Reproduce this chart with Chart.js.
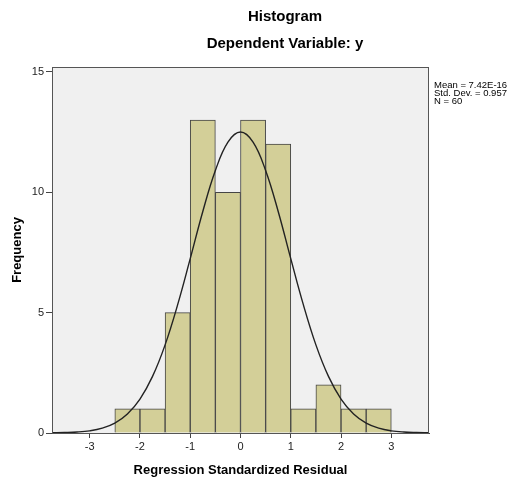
<!DOCTYPE html>
<html>
<head>
<meta charset="utf-8">
<script src="https://cdn.jsdelivr.net/npm/chart.js@4"></script>
<style>
  html, body { margin: 0; padding: 0; background: #ffffff; }
  #wrap { width: 512px; height: 486px; position: relative; }
</style>
</head>
<body>
<div id="wrap"><canvas id="histChart" width="512" height="486"></canvas></div>
<script>
// ===== DATA =====
const binEdges = [-2.5, -2, -1.5, -1, -0.5, 0, 0.5, 1, 1.5, 2, 2.5, 3];
const binCounts = [1, 1, 5, 13, 10, 13, 12, 1, 2, 1, 1];

// normal curve, values
const curveX = [-3.75, -3.5, -3.25, -3, -2.75, -2.5, -2.25, -2, -1.75, -1.5, -1.25, -1, -0.75, -0.5, -0.25,
                0, 0.25, 0.5, 0.75, 1, 1.25, 1.5, 1.75, 2, 2.25, 2.5, 2.75, 3, 3.25, 3.5, 3.75];
const curveY = [0.01, 0.02, 0.04, 0.09, 0.2, 0.41, 0.79, 1.41, 2.35, 3.66, 5.33, 7.24, 9.2, 10.9, 12.08,
                12.5, 12.08, 10.9, 9.2, 7.24, 5.33, 3.66, 2.35, 1.41, 0.79, 0.41, 0.2, 0.09, 0.04, 0.02, 0.01];

const xTicks = [-3, -2, -1, 0, 1, 2, 3];
const yTicks = [0, 5, 10, 15];

const titleLines = ["Histogram", "Dependent Variable: y"];
const statLines = ["Mean = 7.42E-16", "Std. Dev. = 0.957", "N = 60"];

const FONT = "'Liberation Sans', Arial, sans-serif";

// ===== BUILD DATASETS =====
const barPoints = binCounts.map((c, i) => ({ x: (binEdges[i] + binEdges[i + 1]) / 2, y: c }));
const curvePoints = curveX.map((x, i) => ({ x: x, y: curveY[i] }));

// ===== PLUGINS =====
const plotBackground = {
    id: "plotBackground",
    beforeDraw(chart) {
        const { ctx, chartArea: a } = chart;
        ctx.save();
        ctx.fillStyle = "#f0f0f0";
        ctx.fillRect(a.left, a.top, a.right - a.left, a.bottom - a.top);
        ctx.restore();
    },
    afterDraw(chart) {
        const { ctx, chartArea: a } = chart;
        ctx.save();
        ctx.strokeStyle = "#555555";
        ctx.lineWidth = 1;
        ctx.strokeRect(Math.round(a.left) + 0.5, Math.round(a.top) + 0.5,
            Math.round(a.right - a.left) - 1, Math.round(a.bottom - a.top));

        // titles
        ctx.fillStyle = "#000000";
        ctx.textAlign = "center";
        ctx.textBaseline = "middle";
        ctx.font = "bold 15px " + FONT;
        ctx.fillText(titleLines[0], 285, 17);
        ctx.fillText(titleLines[1], 285, 44);

        // stats box
        ctx.font = "9.5px " + FONT;
        ctx.textAlign = "left";
        statLines.forEach((t, i) => ctx.fillText(t, 434, 85 + i * 8));
        ctx.restore();
    }
};

// ===== CHART =====
new Chart(document.getElementById("histChart"), {
    type: "bar",
    data: {
        datasets: [
            {
                type: "line",
                data: curvePoints,
                borderColor: "#222222",
                borderWidth: 1.4,
                pointRadius: 0,
                tension: 0.4,
                fill: false,
                order: 0
            },
            {
                type: "bar",
                data: barPoints,
                backgroundColor: "#d3cf98",
                borderColor: "#454545",
                borderWidth: 1,
                barPercentage: 1,
                categoryPercentage: 1,
                order: 1
            }
        ]
    },
    options: {
        responsive: false,
        animation: false,
        layout: { padding: { top: 67, right: 83, left: 0, bottom: 0 } },
        plugins: {
            legend: { display: false },
            tooltip: { enabled: false }
        },
        scales: {
            x: {
                type: "linear",
                min: -3.75,
                max: 3.75,
                offset: false,
                afterBuildTicks: s => { s.ticks = xTicks.map(v => ({ value: v })); },
                afterFit: s => { s.height = 53; },
                grid: { drawOnChartArea: false, offset: false, tickLength: 5, color: "#444444" },
                border: { color: "#444444" },
                ticks: {
                    font: { family: FONT, size: 11 },
                    color: "#222222",
                    padding: 2,
                    maxRotation: 0
                },
                title: {
                    display: true,
                    text: "Regression Standardized Residual",
                    font: { family: FONT, size: 13, weight: "bold" },
                    color: "#000000",
                    padding: { top: 1, bottom: 8 }
                }
            },
            y: {
                min: 0,
                max: 15.2,
                afterBuildTicks: s => { s.ticks = yTicks.map(v => ({ value: v })); },
                afterFit: s => { s.width = 52; },
                grid: { drawOnChartArea: false, tickLength: 6, color: "#444444" },
                border: { color: "#444444" },
                ticks: {
                    font: { family: FONT, size: 11 },
                    color: "#222222",
                    padding: 2
                },
                title: {
                    display: true,
                    text: "Frequency",
                    font: { family: FONT, size: 13, weight: "bold" },
                    color: "#000000",
                    padding: { top: 10, bottom: 0 }
                }
            }
        }
    },
    plugins: [plotBackground]
});
</script>
</body>
</html>
